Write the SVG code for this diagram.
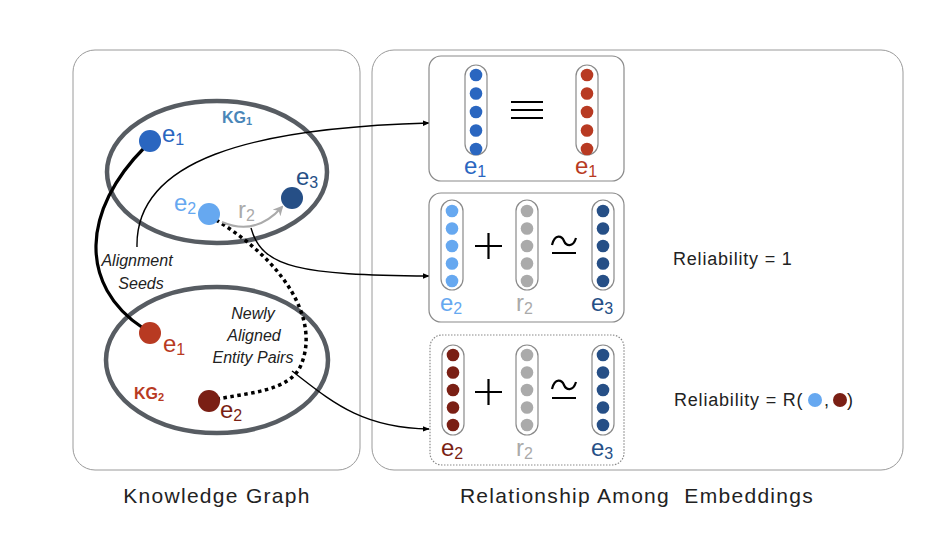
<svg xmlns="http://www.w3.org/2000/svg" width="949" height="535" viewBox="0 0 949 535">
<defs>
<marker id="ah" viewBox="0 0 10 10" refX="9" refY="5" markerWidth="7" markerHeight="7" orient="auto" markerUnits="userSpaceOnUse"><path d="M0,1 L10,5 L0,9 z" fill="#000"/></marker>
<marker id="ahg" viewBox="0 0 10 10" refX="8" refY="5" markerWidth="10" markerHeight="10" orient="auto" markerUnits="userSpaceOnUse"><path d="M0,0 L10,5 L0,10 L3,5 z" fill="#aaaaaa"/></marker>
<style>
text{font-family:"Liberation Sans",Arial,sans-serif;}
.panel{fill:#fff;stroke:#9a9a9a;stroke-width:1;}
.kg{fill:none;stroke:#575c62;stroke-width:4.5;}
.box{fill:#fff;stroke:#8a8a8a;stroke-width:1.2;}
.cap{fill:#fff;stroke:#8a8a8a;stroke-width:1.2;}
.lbl{font-size:24px;}
.sub{font-size:16px;}
.it{font-style:italic;font-size:16px;fill:#222;}
.conn{fill:none;stroke:#000;stroke-width:1.4;}
.op{stroke:#000;stroke-width:2.2;fill:none;}
.rel{font-size:18px;fill:#222;letter-spacing:0.8px;}
.cap-txt{font-size:21px;fill:#222;letter-spacing:1.3px;}
</style>
</defs>
<rect class="panel" x="73" y="50" width="287" height="420" rx="22"/>
<rect class="panel" x="372" y="50" width="531" height="420" rx="22"/>

<g id="kg1">
<ellipse class="kg" cx="217" cy="172" rx="110" ry="71"/>
<text x="222" y="123" font-weight="bold" font-size="16" fill="#4a86b8">KG<tspan font-size="11" dy="2">1</tspan></text>
</g>
<g id="kg2">
<ellipse class="kg" cx="217" cy="360" rx="111" ry="73"/>
<text x="134" y="399" font-weight="bold" font-size="16" fill="#b83a22">KG<tspan font-size="11" dy="2">2</tspan></text>
</g>

<g id="connectors">
<path d="M145,147 C82,210 78,285 143,328" fill="none" stroke="#000" stroke-width="3.2"/>
<path d="M216,220 C285,262 320,320 301,365 C290,392 245,393 218,399" fill="none" stroke="#000" stroke-width="3.5" stroke-dasharray="3.5 3.5"/>
<path d="M222,222 C245,232 265,226 282,207" fill="none" stroke="#aaaaaa" stroke-width="2" marker-end="url(#ahg)"/>
<path class="conn" d="M137,247 C135,160 250,128 429,123" marker-end="url(#ah)"/>
<path class="conn" d="M251,228 C262,268 300,275 429,276" marker-end="url(#ah)"/>
<path class="conn" d="M292,371 C330,400 360,428 429,429" marker-end="url(#ah)"/>
</g>

<g id="kg1-e1">
<circle cx="150" cy="141" r="11" fill="#2a66c0"/>
<text x="162" y="142" class="lbl" fill="#2a66c0">e<tspan class="sub" dy="3">1</tspan></text>
</g>
<g id="kg1-e2">
<circle cx="209" cy="214" r="11" fill="#66a8f0"/>
<text x="174" y="211" class="lbl" fill="#66a8f0">e<tspan class="sub" dy="3">2</tspan></text>
</g>
<g id="kg1-r2">
<text x="238" y="218" class="lbl" fill="#aaaaaa">r<tspan class="sub" dy="3">2</tspan></text>
</g>
<g id="kg1-e3">
<circle cx="292" cy="198" r="11" fill="#264f86"/>
<text x="296" y="185" class="lbl" fill="#264f86">e<tspan class="sub" dy="3">3</tspan></text>
</g>
<g id="kg2-e1">
<circle cx="150" cy="333" r="11" fill="#b83a22"/>
<text x="163" y="352" class="lbl" fill="#b83a22">e<tspan class="sub" dy="3">1</tspan></text>
</g>
<g id="kg2-e2">
<circle cx="209" cy="401" r="11" fill="#7a1f14"/>
<text x="220" y="418" class="lbl" fill="#7a1f14">e<tspan class="sub" dy="3">2</tspan></text>
</g>

<g id="seeds-label">
<text class="it" x="137" y="266" text-anchor="middle">Alignment</text>
<text class="it" x="141" y="289" text-anchor="middle">Seeds</text>
</g>
<g id="new-pairs-label">
<text class="it" x="253" y="319" text-anchor="middle">Newly</text>
<text class="it" x="254" y="341" text-anchor="middle">Aligned</text>
<text class="it" x="253" y="363" text-anchor="middle">Entity Pairs</text>
</g>

<g id="box1">
<rect class="box" x="429" y="56" width="195" height="125" rx="12"/>
<rect class="cap" x="465" y="65" width="22" height="90" rx="11"/>
<g fill="#2a66c0"><circle cx="476" cy="75" r="6.3"/><circle cx="476" cy="93.5" r="6.3"/><circle cx="476" cy="112" r="6.3"/><circle cx="476" cy="130.5" r="6.3"/><circle cx="476" cy="149" r="6.3"/></g>
<rect class="cap" x="576" y="65" width="22" height="90" rx="11"/>
<g fill="#b83a22"><circle cx="587" cy="75" r="6.3"/><circle cx="587" cy="93.5" r="6.3"/><circle cx="587" cy="112" r="6.3"/><circle cx="587" cy="130.5" r="6.3"/><circle cx="587" cy="149" r="6.3"/></g>
<path class="op" d="M511,102 H543 M511,110 H543 M511,118 H543"/>
<text x="464" y="174" class="lbl" fill="#2a66c0">e<tspan class="sub" dy="3">1</tspan></text>
<text x="575" y="174" class="lbl" fill="#b83a22">e<tspan class="sub" dy="3">1</tspan></text>
</g>

<g id="box2">
<rect class="box" x="429" y="193" width="195" height="129" rx="12"/>
<rect class="cap" x="441" y="200" width="22" height="90" rx="11"/>
<g fill="#66a8f0"><circle cx="452" cy="211" r="6.3"/><circle cx="452" cy="228.5" r="6.3"/><circle cx="452" cy="246" r="6.3"/><circle cx="452" cy="263.5" r="6.3"/><circle cx="452" cy="281" r="6.3"/></g>
<rect class="cap" x="516" y="200" width="22" height="90" rx="11"/>
<g fill="#aaaaaa"><circle cx="527" cy="211" r="6.3"/><circle cx="527" cy="228.5" r="6.3"/><circle cx="527" cy="246" r="6.3"/><circle cx="527" cy="263.5" r="6.3"/><circle cx="527" cy="281" r="6.3"/></g>
<rect class="cap" x="592" y="200" width="22" height="90" rx="11"/>
<g fill="#264f86"><circle cx="603" cy="211" r="6.3"/><circle cx="603" cy="228.5" r="6.3"/><circle cx="603" cy="246" r="6.3"/><circle cx="603" cy="263.5" r="6.3"/><circle cx="603" cy="281" r="6.3"/></g>
<path class="op" d="M475,246 H502 M488.5,233 V259"/>
<path class="op" d="M552,245 C555,233 562,236 564,241 C566,246 573,248 576,238 M552,253 H576"/>
<text x="440" y="311" class="lbl" fill="#66a8f0">e<tspan class="sub" dy="3">2</tspan></text>
<text x="516" y="311" class="lbl" fill="#aaaaaa">r<tspan class="sub" dy="3">2</tspan></text>
<text x="591" y="311" class="lbl" fill="#264f86">e<tspan class="sub" dy="3">3</tspan></text>
</g>

<g id="box3">
<rect class="box" x="430" y="335" width="194" height="130" rx="12" stroke-dasharray="1.5 1.5"/>
<rect class="cap" x="442" y="345" width="22" height="90" rx="11"/>
<g fill="#7a1f14"><circle cx="453" cy="355" r="6.3"/><circle cx="453" cy="372.5" r="6.3"/><circle cx="453" cy="390" r="6.3"/><circle cx="453" cy="407.5" r="6.3"/><circle cx="453" cy="425" r="6.3"/></g>
<rect class="cap" x="516" y="345" width="22" height="90" rx="11"/>
<g fill="#aaaaaa"><circle cx="527" cy="355" r="6.3"/><circle cx="527" cy="372.5" r="6.3"/><circle cx="527" cy="390" r="6.3"/><circle cx="527" cy="407.5" r="6.3"/><circle cx="527" cy="425" r="6.3"/></g>
<rect class="cap" x="592" y="345" width="22" height="90" rx="11"/>
<g fill="#264f86"><circle cx="603" cy="355" r="6.3"/><circle cx="603" cy="372.5" r="6.3"/><circle cx="603" cy="390" r="6.3"/><circle cx="603" cy="407.5" r="6.3"/><circle cx="603" cy="425" r="6.3"/></g>
<path class="op" d="M475,392 H502 M488.5,379 V405"/>
<path class="op" d="M552,389 C555,377 562,380 564,385 C566,390 573,392 576,382 M552,398 H576"/>
<text x="441" y="456" class="lbl" fill="#7a1f14">e<tspan class="sub" dy="3">2</tspan></text>
<text x="516" y="456" class="lbl" fill="#aaaaaa">r<tspan class="sub" dy="3">2</tspan></text>
<text x="591" y="456" class="lbl" fill="#264f86">e<tspan class="sub" dy="3">3</tspan></text>
</g>

<g id="reliability1">
<text class="rel" x="673" y="265">Reliability = 1</text>
</g>
<g id="reliability2">
<text class="rel" x="674" y="406">Reliability = R(</text>
<circle cx="815" cy="400" r="7" fill="#66a8f0"/>
<text class="rel" x="824" y="406">,</text>
<circle cx="840" cy="400" r="7" fill="#7a1f14"/>
<text class="rel" x="847" y="406">)</text>
</g>

<text class="cap-txt" x="217" y="503" text-anchor="middle">Knowledge Graph</text>
<text class="cap-txt" x="637" y="503" text-anchor="middle" xml:space="preserve">Relationship Among  Embeddings</text>
</svg>
